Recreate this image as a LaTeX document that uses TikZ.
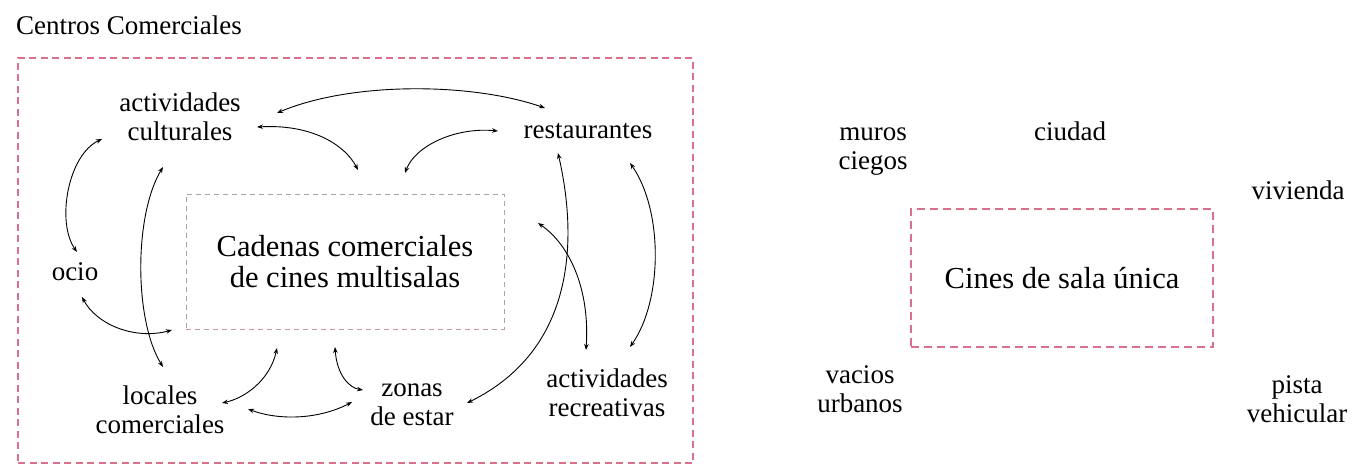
\documentclass[tikz,border=0pt]{standalone}
\usepackage{fontspec}
\setmainfont{Liberation Serif}
\usetikzlibrary{arrows.meta}
\definecolor{pinkc}{RGB}{217,112,140}
\definecolor{grayc}{RGB}{165,165,165}
\definecolor{pinkgray}{RGB}{205,150,165}
\begin{document}
\begin{tikzpicture}[x=1pt,y=-1pt,
  lbl/.style={align=center,inner sep=0pt,font=\fontsize{27}{29}\selectfont},
  biglbl/.style={align=center,inner sep=0pt,font=\fontsize{30.5}{31}\selectfont},
  outerbox/.style={draw=pinkc,line width=2pt,dash pattern=on 7pt off 4.5pt},
  cinesbox/.style={draw=pinkc,line width=2pt,dash pattern=on 8pt off 5pt},
  graybox/.style={draw=grayc,line width=0.9pt,dash pattern=on 5pt off 4pt},
  arr/.style={{Stealth[length=6pt,width=4.5pt]}-{Stealth[length=6pt,width=4.5pt]},line width=0.9pt}]
\useasboundingbox (0,0) rectangle (1353,469);
\fill[white] (0,0) rectangle (1353,469);

% title and outer frame
\node[lbl,anchor=west] (title) at (16,25) {Centros Comerciales};
\node[outerbox,minimum width=675pt,minimum height=405pt,inner sep=0pt] (outer) at (355.5,260.5) {};

% central box
\node[graybox,biglbl,minimum width=318pt,minimum height=135pt] (cad) at (345,261.5) {Cadenas comerciales\\de cines multisalas};
\draw[pinkgray,line width=0.9pt,dash pattern=on 5pt off 4pt] (cad.south west) -- (cad.south east);

% labels left
\node[lbl] (cult) at (180,117) {actividades\\culturales};
\node[lbl] (rest) at (588,131) {restaurantes};
\node[lbl] (ocio) at (75,272) {ocio};
\node[lbl] (loc) at (160,410) {locales\\comerciales};
\node[lbl] (zon) at (412,405) {zonas\\de estar};
\node[lbl] (recr) at (607,393) {actividades\\recreativas};

% arrow end points
\coordinate (a1s) at (102,139); \coordinate (a1e) at (77,252);
\coordinate (a2s) at (163,167); \coordinate (a2e) at (163,367);
\coordinate (a3s) at (82,297);  \coordinate (a3e) at (172,330);
\coordinate (a4s) at (277,113); \coordinate (a4e) at (545,108);
\coordinate (a5s) at (257,127); \coordinate (a5e) at (358,170);
\coordinate (a6s) at (405,173); \coordinate (a6e) at (498,131);
\coordinate (a7s) at (558,153); \coordinate (a7e) at (467,403);
\coordinate (a8s) at (630,163); \coordinate (a8e) at (630,347);
\coordinate (a9s) at (538,223); \coordinate (a9e) at (586,350);
\coordinate (a10s) at (277,348); \coordinate (a10e) at (222,403);
\coordinate (a11s) at (248,409); \coordinate (a11e) at (352,402);
\coordinate (a12s) at (335,347); \coordinate (a12e) at (363,390);

\draw[arr] (a1s) .. controls (68,155) and (56,222) .. (a1e);
\draw[arr] (a2s) .. controls (134,215) and (134,320) .. (a2e);
\draw[arr] (a3s) .. controls (97,325) and (135,340) .. (a3e);
\draw[arr] (a4s) .. controls (350,82) and (470,82) .. (a4e);
\draw[arr] (a5s) .. controls (312,124) and (345,145) .. (a5e);
\draw[arr] (a6s) .. controls (415,146) and (455,127) .. (a6e);
\draw[arr] (a7s) .. controls (578,240) and (575,350) .. (a7e);
\draw[arr] (a8s) .. controls (663,210) and (663,300) .. (a8e);
\draw[arr] (a9s) .. controls (570,245) and (590,290) .. (a9e);
\draw[arr] (a10s) .. controls (270,380) and (245,398) .. (a10e);
\draw[arr] (a11s) .. controls (280,421) and (320,419) .. (a11e);
\draw[arr] (a12s) .. controls (337,376) and (350,388) .. (a12e);

% right diagram
\node[cinesbox,biglbl,minimum width=302pt,minimum height=138pt] (cines) at (1062,278) {Cines de sala única};
\node[lbl] (muros) at (873,152) {muros\\ciegos};
\node[lbl] (ciudad) at (1070,131) {ciudad};
\node[lbl] (viv) at (1298,190) {vivienda};
\node[lbl] (vac) at (860,389) {vacios\\urbanos};
\node[lbl] (pista) at (1297,399) {pista\\vehicular};
\end{tikzpicture}
\end{document}
